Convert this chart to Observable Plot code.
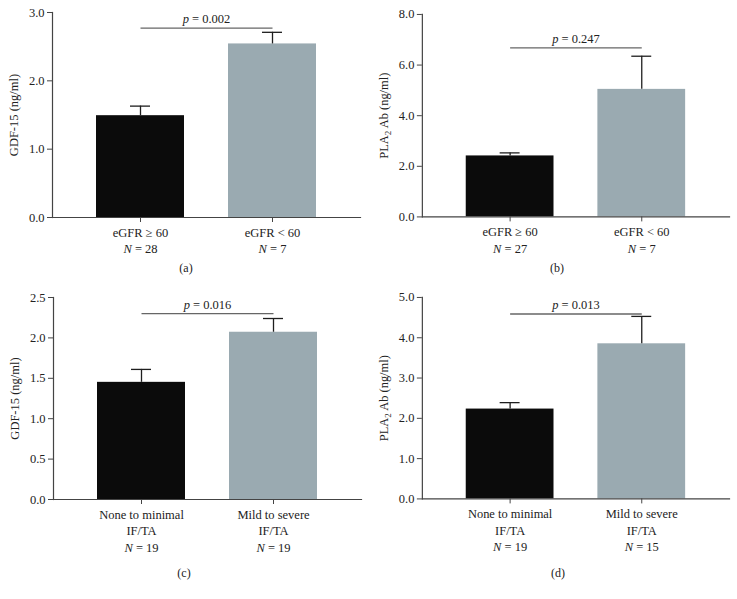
<!DOCTYPE html>
<html><head><meta charset="utf-8">
<script src="https://cdn.jsdelivr.net/npm/d3@7"></script>
<script src="https://cdn.jsdelivr.net/npm/@observablehq/plot@0.6"></script>
<style>
body{margin:0;background:#fff;}
#root{position:relative;width:737px;height:599px;font-family:"Liberation Serif","Times New Roman",serif;overflow:hidden;}
.panel{position:absolute;}
.cap{position:absolute;font-size:12px;color:#222;transform:translate(-50%,-50%);white-space:nowrap;}
</style></head><body><div id="root"></div>
<script>
// ---- data ----
const eGFRGroups = ["eGFR ≥ 60", "eGFR < 60"];
const iftaGroups = ["None to minimal\nIF/TA", "Mild to severe\nIF/TA"];

// (a) GDF-15 by eGFR
const gdfEgfrMean = [1.49, 2.54];
const gdfEgfrUpper = [1.63, 2.71];
const gdfEgfrN = [28, 7];
const gdfEgfrP = "0.002";
const gdfEgfrPLine = 2.77;

// (b) PLA2R Ab by eGFR
const plaEgfrMean = [2.41, 5.04];
const plaEgfrUpper = [2.53, 6.35];
const plaEgfrN = [27, 7];
const plaEgfrP = "0.247";
const plaEgfrPLine = 6.68;

// (c) GDF-15 by IF/TA
const gdfIftaMean = [1.45, 2.07];
const gdfIftaUpper = [1.61, 2.24];
const gdfIftaN = [19, 19];
const gdfIftaP = "0.016";
const gdfIftaPLine = 2.30;

// (d) PLA2R Ab by IF/TA
const plaIftaMean = [2.23, 3.85];
const plaIftaUpper = [2.39, 4.53];
const plaIftaN = [19, 15];
const plaIftaP = "0.013";
const plaIftaPLine = 4.59;

const ticksA = [0, 1, 2, 3];
const ticksB = [0, 2, 4, 6, 8];
const ticksC = [0, 0.5, 1, 1.5, 2, 2.5];
const ticksD = [0, 1, 2, 3, 4, 5];

const gdfLabel = "GDF-15 (ng/ml)";
const plaLabel = "PLA2R Ab (ng/ml)";
const captions = ["(a)", "(b)", "(c)", "(d)"];

// ---- drawing ----
const root = document.getElementById("root");
const FONT = '"Liberation Serif","Times New Roman",serif';

function decorate(svg) {
  svg.querySelectorAll("text, tspan").forEach(el => {
    if (el.children.length) return;
    const t = el.textContent;
    let m;
    if ((m = t.match(/^N = (.*)$/))) el.innerHTML = `<tspan font-style="italic">N</tspan> = ${m[1]}`;
    else if ((m = t.match(/^p = (.*)$/))) el.innerHTML = `<tspan font-style="italic">p</tspan> = ${m[1]}`;
  });
  const lg = svg.querySelector('[aria-label="y-axis label"]');
  if (lg) {
    lg.setAttribute("font-size", "12.5");
    lg.style.fontSize = "12.5px";
    const yl = lg.querySelector("text");
    yl.style.fontSize = "12.5px";
    const t = yl.textContent.replace(/[↑↓→←]\s*/g, "").trim();
    if (t.startsWith("PLA2R")) {
      yl.innerHTML = 'PLA<tspan dy="3" font-size="9">2</tspan><tspan dy="-3">' + t.slice(5) + '</tspan>';
    } else yl.textContent = t;
  }
}

function panel(cfg) {
  const labels = cfg.groups.map((g, i) => `${g}\nN = ${cfg.n[i]}`);
  const data = labels.map((l, i) => ({label: l, mean: cfg.mean[i], upper: cfg.upper[i]}));
  const pData = [{y: cfg.pLine, text: `p = ${cfg.p}`}];
  const chart = Plot.plot({
    width: 368,
    height: cfg.height,
    marginLeft: 52,
    marginRight: 8,
    marginTop: 12,
    marginBottom: cfg.mb,
    style: {fontFamily: FONT, fontSize: "12px", color: "#222", background: "transparent", overflow: "visible"},
    x: {domain: labels, padding: 1 / 3, label: null},
    y: {domain: cfg.domain, label: null},
    color: {domain: labels, range: ["#0b0b0b", "#9aaab1"]},
    marks: [
      Plot.barY(data, {x: "label", y: "mean", fill: "label"}),
      Plot.ruleX(data, {x: "label", y1: "mean", y2: "upper", stroke: "#1e1e1e", strokeWidth: 1.3}),
      Plot.tickY(data, {x: "label", y: "upper", inset: 34, stroke: "#1e1e1e", strokeWidth: 1.3}),
      Plot.link(pData, {x1: () => labels[0], x2: () => labels[1], y1: "y", y2: "y", stroke: "#666", strokeWidth: 1.3}),
      Plot.text(pData, {y: "y", text: "text", frameAnchor: "middle", lineAnchor: "bottom", dy: -5, fill: "#222", fontSize: 12.5}),
      Plot.frame({anchor: "left", stroke: "#444", strokeWidth: 1.2}),
      Plot.frame({anchor: "bottom", stroke: "#444", strokeWidth: 1.2}),
      Plot.axisX({tickSize: 5, tickPadding: 3, lineHeight: 1.3, stroke: "#444", label: null, fontSize: 12.5}),
      Plot.axisY({ticks: cfg.ticks, tickSize: 5, tickPadding: 3, tickFormat: d3.format(".1f"), stroke: "#444",
        label: cfg.yLabel, labelAnchor: "center", labelArrow: "none", labelOffset: 43, fontSize: 12.5})
    ]
  });
  decorate(chart);
  const div = document.createElement("div");
  div.className = "panel";
  div.style.left = cfg.left + "px";
  div.style.top = cfg.top + "px";
  div.appendChild(chart);
  root.appendChild(div);
  const cap = document.createElement("div");
  cap.className = "cap";
  cap.textContent = cfg.caption;
  cap.style.left = cfg.capX + "px";
  cap.style.top = cfg.capY + "px";
  root.appendChild(cap);
}

panel({groups: eGFRGroups, n: gdfEgfrN, mean: gdfEgfrMean, upper: gdfEgfrUpper, p: gdfEgfrP, pLine: gdfEgfrPLine,
  domain: [0, 3], ticks: ticksA, yLabel: gdfLabel, left: 0, top: 0, height: 259, mb: 42, caption: captions[0], capX: 186, capY: 268});
panel({groups: eGFRGroups, n: plaEgfrN, mean: plaEgfrMean, upper: plaEgfrUpper, p: plaEgfrP, pLine: plaEgfrPLine,
  domain: [0, 8], ticks: ticksB, yLabel: plaLabel, left: 370, top: 2, height: 257, mb: 42, caption: captions[1], capX: 557, capY: 268});
panel({groups: iftaGroups, n: gdfIftaN, mean: gdfIftaMean, upper: gdfIftaUpper, p: gdfIftaP, pLine: gdfIftaPLine,
  domain: [0, 2.5], ticks: ticksC, yLabel: gdfLabel, left: 1, top: 285, height: 276, mb: 62, caption: captions[2], capX: 184, capY: 573});
panel({groups: iftaGroups, n: plaIftaN, mean: plaIftaMean, upper: plaIftaUpper, p: plaIftaP, pLine: plaIftaPLine,
  domain: [0, 5], ticks: ticksD, yLabel: plaLabel, left: 370, top: 285, height: 276, mb: 62, caption: captions[3], capX: 558, capY: 573});
</script>
</body></html>
